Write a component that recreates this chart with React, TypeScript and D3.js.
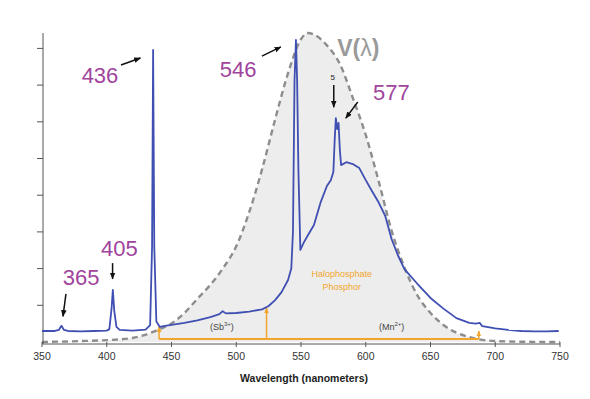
import React, { useEffect, useRef } from "react";
import * as d3 from "d3";

// axis ticks
const xTicks = [350, 400, 450, 500, 550, 600, 650, 700, 750];
const yTicks = [1, 2, 3, 4, 5, 6, 7, 8];

// fluorescent lamp emission spectrum (nm, relative intensity)
const specWavelength = [
  350, 355, 360, 363, 365, 367, 370, 380, 390, 400, 402, 403.7, 404.7, 405.8, 407.5, 410, 420, 430, 433.5,
  435, 435.8, 436.7, 438.3, 441, 445, 460, 470, 480, 487, 489.5, 492, 500, 510, 520, 525, 530, 535, 540,
  542.5, 543.8, 545, 546.1, 547, 548, 549.5, 552, 555, 560, 565, 570, 573, 575, 576, 576.9, 578, 579, 580,
  581, 585, 590, 595, 600, 605, 610, 615, 620, 625, 630, 640, 650, 660, 670, 680, 685, 688, 690, 700, 710,
  720, 730, 740, 749,
];
const specIntensity = [
  0.3, 0.3, 0.3, 0.33, 0.44, 0.33, 0.3, 0.29, 0.3, 0.31, 0.35, 0.9, 1.42, 0.85, 0.41, 0.33, 0.31, 0.34, 0.46,
  2.6, 7.96, 2.6, 0.56, 0.41, 0.44, 0.52, 0.59, 0.68, 0.76, 0.84, 0.78, 0.79, 0.83, 0.89, 0.98, 1.14, 1.36, 1.69,
  2.0, 3.0, 7.14, 8.23, 7.14, 4.69, 2.51, 2.7, 2.89, 3.19, 3.79, 4.25, 4.41, 4.63, 5.5, 6.1, 5.8, 5.97, 5.23,
  4.82, 4.9, 4.85, 4.74, 4.41, 4.1, 3.8, 3.44, 2.8, 2.35, 1.98, 1.58, 1.2, 0.91, 0.65, 0.52, 0.5, 0.52, 0.43,
  0.37, 0.33, 0.3, 0.29, 0.29, 0.3,
];

// eye sensitivity curve V(lambda), normalised
const vWavelength = [
  350, 380, 400, 420, 440, 450, 460, 470, 480, 490, 500, 510, 520, 530, 540, 550, 555, 560, 570, 580, 590,
  600, 610, 620, 630, 640, 650, 660, 670, 680, 690, 700, 720, 750,
];
const vValue = [
  0, 0.003, 0.006, 0.013, 0.04, 0.06, 0.094, 0.14, 0.185, 0.24, 0.31, 0.42, 0.56, 0.72, 0.87, 0.98, 1.0, 0.995,
  0.96, 0.9, 0.79, 0.67, 0.52, 0.36, 0.24, 0.15, 0.094, 0.055, 0.03, 0.016, 0.007, 0.003, 0.001, 0,
];

// mercury line labels: text, label pos, arrow from, arrow to (nm, intensity)
const lineLabels = [
  { text: "436", lx: 380.6, ly: 7.06, ax1: 411, ay1: 7.55, ax2: 426, ay2: 7.74 },
  { text: "546", lx: 487.3, ly: 7.22, ax1: 519.8, ay1: 7.79, ax2: 534.4, ay2: 8.04 },
  { text: "577", lx: 605.6, ly: 6.59, ax1: 593.8, ay1: 6.54, ax2: 584.6, ay2: 6.1 },
  { text: "405", lx: 395.5, ly: 2.34, ax1: 404.5, ay1: 2.15, ax2: 404.5, ay2: 1.72 },
  { text: "365", lx: 366, ly: 1.55, ax1: 368.5, ay1: 1.31, ax2: 366.2, ay2: 0.7 },
];

// halophosphate phosphor band
const bandStart = 440.4;
const bandEnd = 687.3;
const bandArrows = [
  { at: 440.4, top: 0.42 },
  { at: 523.4, top: 0.93 },
  { at: 687.3, top: 0.3 },
];

const FONT = "'Liberation Sans', Arial, sans-serif";
const PURPLE = "#a0449c";
const ORANGE = "#f2a52c";

const App = () => {
  const svgRef = useRef<SVGSVGElement>(null);

  useEffect(() => {
    const width = 590;
    const height = 399;
    const svg = d3.select(svgRef.current).attr("width", width).attr("height", height);
    svg.selectAll("*").remove();

    const x = d3.scaleLinear().domain([350, 750]).range([42, 560]);
    const y = d3.scaleLinear().domain([0, 8.42]).range([342, 33]);
    const v = d3.scaleLinear().domain([0, 1]).range([342, 33]);

    const defs = svg.append("defs");
    const marker = (id: string, color: string, size: number) =>
      defs
        .append("marker")
        .attr("id", id)
        .attr("viewBox", "0 0 10 10")
        .attr("refX", 9)
        .attr("refY", 5)
        .attr("markerWidth", size)
        .attr("markerHeight", size)
        .attr("markerUnits", "userSpaceOnUse")
        .attr("orient", "auto")
        .append("path")
        .attr("d", "M0,1 L10,5 L0,9 Z")
        .attr("fill", color);
    marker("arrBlack", "#111", 7);
    marker("arrOrange", ORANGE, 6);

    // V(lambda) shaded area and dashed outline
    const vData = vWavelength.map((w, i) => ({ w, val: vValue[i] }));
    const area = d3
      .area<{ w: number; val: number }>()
      .x((d) => x(d.w))
      .y0(v(0))
      .y1((d) => v(d.val))
      .curve(d3.curveMonotoneX);
    svg.append("path").datum(vData).attr("d", area).attr("fill", "#ededed");

    const vLine = d3
      .line<{ w: number; val: number }>()
      .x((d) => x(d.w))
      .y((d) => v(d.val))
      .curve(d3.curveMonotoneX);
    svg
      .append("path")
      .datum(vData)
      .attr("d", vLine)
      .attr("fill", "none")
      .attr("stroke", "#8d8d8d")
      .attr("stroke-width", 2.4)
      .attr("stroke-dasharray", "6,4");

    // axes
    const axisColor = "#555";
    const yAxis = svg.append("g").attr("transform", `translate(43,0)`);
    yAxis
      .append("line")
      .attr("y1", 33)
      .attr("y2", 344)
      .attr("stroke", axisColor);
    yAxis
      .selectAll(".yt")
      .data(yTicks)
      .enter()
      .append("line")
      .attr("x1", -6)
      .attr("x2", 0)
      .attr("y1", (d) => y(d))
      .attr("y2", (d) => y(d))
      .attr("stroke", axisColor);

    const xAxis = svg.append("g").attr("transform", `translate(0,344)`);
    xAxis.append("line").attr("x1", 42).attr("x2", 560).attr("stroke", axisColor);
    xAxis
      .selectAll(".xt")
      .data(xTicks)
      .enter()
      .append("line")
      .attr("x1", (d) => x(d))
      .attr("x2", (d) => x(d))
      .attr("y1", -2)
      .attr("y2", 3)
      .attr("stroke", axisColor);
    xAxis
      .selectAll(".xl")
      .data(xTicks)
      .enter()
      .append("text")
      .attr("x", (d) => x(d))
      .attr("y", 16)
      .attr("text-anchor", "middle")
      .style("font-family", FONT)
      .style("font-size", "10.5px")
      .style("fill", "#333")
      .text((d) => d);

    svg
      .append("text")
      .attr("x", 304)
      .attr("y", 382)
      .attr("text-anchor", "middle")
      .style("font-family", FONT)
      .style("font-size", "10.5px")
      .style("font-weight", "bold")
      .style("fill", "#222")
      .text("Wavelength (nanometers)");

    // phosphor band (orange)
    const band = svg.append("g");
    band
      .append("line")
      .attr("x1", x(bandStart))
      .attr("x2", x(bandEnd))
      .attr("y1", y(0.08))
      .attr("y2", y(0.08))
      .attr("stroke", ORANGE)
      .attr("stroke-width", 2);
    band
      .selectAll(".ba")
      .data(bandArrows)
      .enter()
      .append("line")
      .attr("x1", (d) => x(d.at))
      .attr("x2", (d) => x(d.at))
      .attr("y1", y(0.08))
      .attr("y2", (d) => y(d.top))
      .attr("stroke", ORANGE)
      .attr("stroke-width", 1.5)
      .attr("marker-end", "url(#arrOrange)");

    // emission spectrum
    const specData = specWavelength.map((w, i) => ({ w, val: specIntensity[i] }));
    const specLine = d3
      .line<{ w: number; val: number }>()
      .x((d) => x(d.w))
      .y((d) => y(d.val));
    svg
      .append("path")
      .datum(specData)
      .attr("d", specLine)
      .attr("fill", "none")
      .attr("stroke", "#3f4fb2")
      .attr("stroke-width", 1.8)
      .attr("stroke-linejoin", "round");

    // band text
    const bandText = (lx: number, ly: number, lines: string[]) => {
      lines.forEach((t, i) =>
        svg
          .append("text")
          .attr("x", x(lx))
          .attr("y", y(ly) + i * 13.5)
          .attr("text-anchor", "middle")
          .style("font-family", FONT)
          .style("font-size", "9px")
          .style("fill", ORANGE)
          .text(t)
      );
    };
    bandText(581.5, 1.78, ["Halophosphate", "Phosphor"]);

    const ion = (lx: number, base: string, sup: string) => {
      const t = svg
        .append("text")
        .attr("x", x(lx))
        .attr("y", y(0.33))
        .attr("text-anchor", "middle")
        .style("font-family", FONT)
        .style("font-size", "9px")
        .style("fill", "#444");
      t.append("tspan").text(`(${base}`);
      t.append("tspan").attr("dy", -4).style("font-size", "6px").text(sup);
      t.append("tspan").attr("dy", 4).text(")");
    };
    ion(488.9, "Sb", "3+");
    ion(620, "Mn", "2+");

    // line labels and arrows
    lineLabels.forEach((d) => {
      svg
        .append("text")
        .attr("x", x(d.lx))
        .attr("y", y(d.ly))
        .style("font-family", FONT)
        .style("font-size", "22px")
        .style("fill", PURPLE)
        .text(d.text);
      svg
        .append("line")
        .attr("x1", x(d.ax1))
        .attr("y1", y(d.ay1))
        .attr("x2", x(d.ax2))
        .attr("y2", y(d.ay2))
        .attr("stroke", "#111")
        .attr("stroke-width", 1.5)
        .attr("marker-end", "url(#arrBlack)");
    });

    // small "5" marker over the 577 doublet
    svg
      .append("text")
      .attr("x", x(574.5))
      .attr("y", y(7.14))
      .attr("text-anchor", "middle")
      .style("font-family", FONT)
      .style("font-size", "8px")
      .style("fill", "#222")
      .text("5");
    svg
      .append("line")
      .attr("x1", x(575.3))
      .attr("x2", x(575.3))
      .attr("y1", y(7.0))
      .attr("y2", y(6.4))
      .attr("stroke", "#111")
      .attr("stroke-width", 1.5)
      .attr("marker-end", "url(#arrBlack)");

    // V(lambda) label
    const vl = svg
      .append("text")
      .attr("x", x(577.9))
      .attr("y", y(7.79))
      .style("font-family", FONT)
      .style("font-size", "23px")
      .style("font-weight", "bold")
      .style("fill", "#9a9a9a");
    vl.append("tspan").text("V(");
    vl.append("tspan").style("font-weight", "normal").text("λ");
    vl.append("tspan").text(")");
  }, []);

  return (
    <div style={{ position: "absolute", left: 0, top: 0, background: "#fff" }}>
      <svg ref={svgRef} style={{ display: "block" }} />
    </div>
  );
};

export default App;
